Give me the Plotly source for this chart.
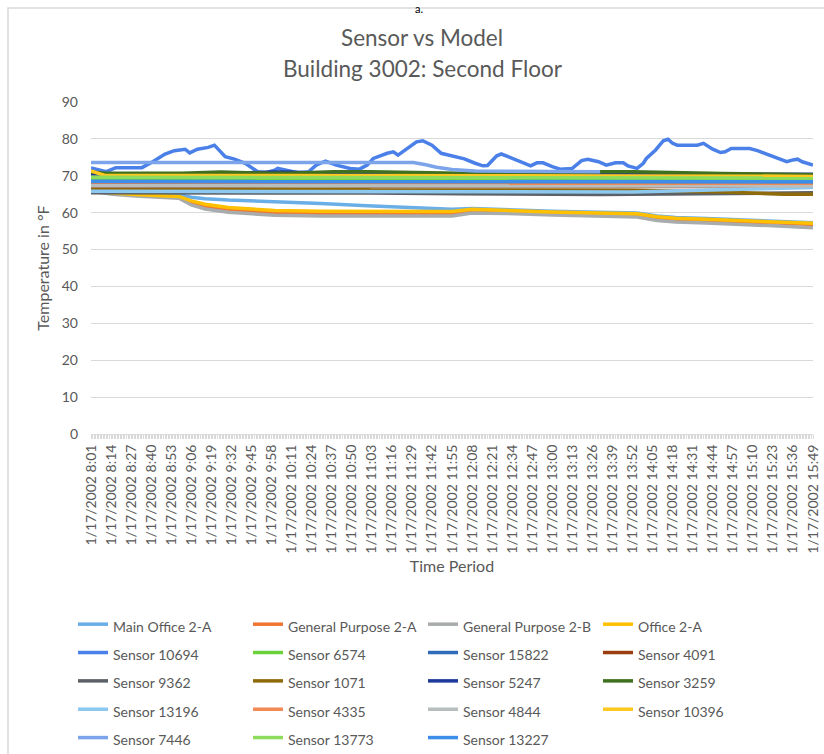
import plotly.graph_objects as go

DATE = "2002-01-17"

# ---- Model series (shared time knots) ----
T_MODEL = ["8:01", "8:15", "8:30", "8:45", "8:58", "9:06", "9:15", "9:30", "9:45", "10:00",
           "10:30", "11:00", "11:30", "11:55", "12:08", "12:30", "13:00", "13:30", "13:55",
           "14:08", "14:20", "14:40", "15:00", "15:20", "15:49"]
MAIN_OFFICE_2A = [66.2, 65.6, 65.2, 65.0, 64.9, 64.2, 63.8, 63.4, 63.2, 63.0,
                  62.5, 61.9, 61.3, 60.9, 61.1, 60.9, 60.4, 60.1, 59.9,
                  59.1, 58.7, 58.4, 58.1, 57.8, 57.3]
GEN_PURPOSE_2A = [66.0, 65.2, 64.8, 64.5, 64.2, 62.8, 61.8, 60.9, 60.4, 60.0,
                  59.8, 59.8, 59.8, 59.8, 60.5, 60.3, 59.9, 59.6, 59.4,
                  58.6, 58.2, 57.9, 57.6, 57.3, 56.8]
GEN_PURPOSE_2B = [65.8, 65.0, 64.5, 64.2, 63.9, 62.1, 61.0, 60.1, 59.6, 59.3,
                  59.1, 59.1, 59.0, 59.1, 59.9, 59.8, 59.4, 59.1, 58.8,
                  57.9, 57.5, 57.2, 56.9, 56.5, 55.9]
OFFICE_2A = [66.1, 65.3, 64.9, 64.6, 64.4, 63.2, 62.3, 61.4, 60.9, 60.6,
             60.4, 60.4, 60.3, 60.3, 60.9, 60.7, 60.2, 59.9, 59.7,
             58.9, 58.5, 58.2, 57.9, 57.6, 57.1]

# ---- Sensor 10694 (fluctuating) ----
T_10694 = ["8:01", "8:11", "8:17", "8:34", "8:41", "8:49", "8:55", "9:02", "9:05", "9:10",
           "9:17", "9:21", "9:28", "9:34", "9:41", "9:49", "9:54", "10:00", "10:02", "10:08",
           "10:15", "10:22", "10:27", "10:33", "10:40", "10:49", "10:55", "11:00", "11:04", "11:13",
           "11:17", "11:20", "11:26", "11:32", "11:36", "11:42", "11:48", "11:55", "12:03", "12:10",
           "12:15", "12:18", "12:24", "12:27", "12:34", "12:40", "12:46", "12:50", "12:54", "13:00",
           "13:05", "13:13", "13:19", "13:23", "13:30", "13:35", "13:41", "13:46", "13:49", "13:55",
           "13:59", "14:01", "14:07", "14:12", "14:15", "14:18", "14:21", "14:29", "14:34", "14:38",
           "14:44", "14:49", "14:52", "14:56", "15:08", "15:13", "15:19", "15:26", "15:32", "15:36",
           "15:39", "15:42", "15:49"]
V_10694 = [72.1, 71.1, 72.2, 72.2, 73.8, 75.9, 76.8, 77.2, 76.2, 77.2,
           77.7, 78.3, 75.2, 74.5, 73.4, 71.1, 70.8, 71.5, 72.0, 71.4,
           70.8, 71.1, 72.9, 74.0, 72.9, 72.0, 71.8, 72.9, 74.7, 76.1,
           76.5, 75.6, 77.4, 79.2, 79.5, 78.3, 76.1, 75.4, 74.6, 73.4,
           72.7, 72.8, 75.4, 75.9, 74.7, 73.8, 72.7, 73.5, 73.5, 72.5,
           71.8, 72.0, 74.1, 74.5, 73.8, 72.9, 73.5, 73.5, 72.7, 72.0,
           73.4, 74.7, 77.0, 79.5, 79.9, 78.8, 78.3, 78.3, 78.3, 78.8,
           77.2, 76.3, 76.5, 77.4, 77.4, 76.8, 75.9, 74.7, 73.8, 74.3,
           74.5, 73.8, 72.9]

# ---- Flat sensors (shared knots) ----
T_FLAT = ["8:01", "8:10", "9:00", "9:14", "9:25", "9:57", "10:10", "10:38", "11:02", "12:00",
          "13:00", "13:31", "13:52", "14:50", "15:30", "15:49"]
S_6574 = [69.3, 69.2, 69.2, 69.2, 69.2, 69.2, 69.2, 69.2, 69.2, 69.2, 69.2, 69.2, 69.2, 69.2, 69.1, 69.1]
S_15822 = [68.1, 68.1, 68.1, 68.1, 68.1, 68.1, 68.1, 68.1, 68.1, 68.1, 68.1, 68.1, 68.1, 68.1, 68.1, 68.1]
S_4091 = [67.1, 67.1, 67.1, 67.1, 67.1, 67.1, 67.1, 67.1, 67.1, 67.1, 67.1, 67.1, 67.1, 67.1, 67.1, 67.1]
S_9362 = [65.4, 65.4, 65.3, 65.3, 65.3, 65.3, 65.3, 65.3, 65.3, 65.1, 64.9, 64.9, 65.0, 65.1, 65.3, 65.4]
S_1071 = [66.2, 66.2, 66.2, 66.2, 66.3, 66.5, 66.5, 66.5, 66.2, 66.2, 66.1, 66.1, 66.1, 65.6, 65.0, 65.0]
S_5247 = [70.5, 70.5, 70.5, 70.5, 70.5, 71.0, 71.0, 70.5, 70.5, 70.5, 70.4, 70.4, 70.4, 70.4, 70.4, 70.4]
S_3259 = [71.0, 70.7, 70.7, 71.0, 71.0, 70.7, 70.7, 71.1, 71.1, 70.7, 70.6, 71.1, 71.1, 70.6, 70.4, 70.3]
S_13196 = [65.8, 65.8, 65.7, 65.7, 65.7, 65.7, 65.7, 65.7, 65.7, 65.7, 65.7, 65.7, 65.6, 66.2, 66.7, 66.8]
S_4335 = [67.5, 67.5, 67.5, 67.5, 67.5, 67.5, 67.5, 67.5, 67.5, 67.5, 67.5, 67.5, 67.5, 67.5, 67.5, 67.5]
S_4844 = [67.3, 67.3, 67.3, 67.3, 67.3, 67.3, 67.3, 67.3, 67.3, 67.3, 67.3, 67.3, 67.3, 67.3, 67.2, 67.2]
S_10396 = [71.3, 70.1, 70.1, 70.1, 70.1, 70.1, 70.1, 70.1, 70.1, 70.1, 70.1, 70.1, 70.1, 70.0, 69.9, 69.8]
S_13773 = [69.6, 69.6, 69.6, 69.6, 69.6, 69.6, 69.6, 69.6, 69.6, 69.6, 69.6, 69.6, 69.6, 69.5, 69.5, 69.4]
S_13227 = [68.5, 68.5, 68.5, 68.5, 68.5, 68.5, 68.5, 68.5, 68.5, 68.5, 68.5, 68.5, 68.5, 68.5, 68.4, 68.4]

# ---- Sensor 7446 ----
T_7446 = ["8:01", "11:30", "11:38", "11:45", "11:55", "12:10", "13:31"]
V_7446 = [73.6, 73.6, 73.0, 72.3, 71.7, 71.3, 71.1]

SERIES = [
    ("Main Office 2-A", T_MODEL, MAIN_OFFICE_2A, "#6AAEE8"),
    ("General Purpose 2-A", T_MODEL, GEN_PURPOSE_2A, "#F07530"),
    ("General Purpose 2-B", T_MODEL, GEN_PURPOSE_2B, "#A8ACAC"),
    ("Office 2-A", T_MODEL, OFFICE_2A, "#FFC000"),
    ("Sensor 10694", T_10694, V_10694, "#4A80E8"),
    ("Sensor 6574", T_FLAT, S_6574, "#6CD23A"),
    ("Sensor 15822", T_FLAT, S_15822, "#2E6BB8"),
    ("Sensor 4091", T_FLAT, S_4091, "#9A3E10"),
    ("Sensor 9362", T_FLAT, S_9362, "#5B6166"),
    ("Sensor 1071", T_FLAT, S_1071, "#8F6A0A"),
    ("Sensor 5247", T_FLAT, S_5247, "#1E3A98"),
    ("Sensor 3259", T_FLAT, S_3259, "#3E7020"),
    ("Sensor 13196", T_FLAT, S_13196, "#8CC8F0"),
    ("Sensor 4335", T_FLAT, S_4335, "#F28A55"),
    ("Sensor 4844", T_FLAT, S_4844, "#B8BEBE"),
    ("Sensor 10396", T_FLAT, S_10396, "#FFC820"),
    ("Sensor 7446", T_7446, V_7446, "#7BA4EA"),
    ("Sensor 13773", T_FLAT, S_13773, "#8EDC5C"),
    ("Sensor 13227", T_FLAT, S_13227, "#3D8EEA"),
]


def to_dt(t):
    h, m = t.split(":")
    return f"{DATE} {int(h):02d}:{m}"


FONT = "Lato"
GREY = "#595959"

fig = go.Figure()
for name, ts, vs, col in SERIES:
    fig.add_trace(go.Scatter(
        x=[to_dt(t) for t in ts], y=vs, mode="lines",
        name=f"<span style='font-size:14px'>{name}</span>",
        line=dict(color=col, width=3.5),
    ))

# plot area geometry (pixels)
L, R, T, B = 91, 11, 102, 320
W, H = 824, 754
PW, PH = W - L - R, H - T - B


def px(x):
    return (x - L) / PW


def py(y):
    return (H - B - y) / PH


fig.update_layout(
    width=W, height=H,
    margin=dict(l=L, r=R, t=T, b=B, autoexpand=False),
    paper_bgcolor="white", plot_bgcolor="white",
    font=dict(family=FONT, color=GREY),
    showlegend=True,
    legend=dict(
        orientation="h", x=px(73), y=py(605), xanchor="left", yanchor="top",
        font=dict(size=19.5, color=GREY, family=FONT),
        entrywidth=130, entrywidthmode="pixels",
        traceorder="normal", bgcolor="rgba(0,0,0,0)",
    ),
    xaxis=dict(
        type="date",
        range=[to_dt("8:01"), to_dt("15:49")],
        tick0=to_dt("8:01"), dtick=13 * 60 * 1000,
        tickformat="%-m/%d/%Y %-H:%M", tickangle=-90,
        tickfont=dict(size=14, color=GREY, family=FONT),
        ticks="outside", ticklen=4, tickcolor="#D9D9D9",
        minor=dict(dtick=60 * 1000, ticks="outside", ticklen=4, tickcolor="#D9D9D9", showgrid=False),
        showgrid=False, showline=True, linecolor="#D9D9D9", linewidth=1,
        title=dict(text="Time Period", font=dict(size=16, color=GREY, family=FONT), standoff=8),
        automargin=False,
    ),
    yaxis=dict(
        range=[0, 90], dtick=10, tick0=0,
        tickfont=dict(size=14, color=GREY, family=FONT),
        showgrid=True, gridcolor="#D9D9D9", gridwidth=1,
        zeroline=False, showline=False, ticks="", ticklabelstandoff=12,
        title=dict(text="Temperature in °F", font=dict(size=16, color=GREY, family=FONT), standoff=8),
        automargin=False,
    ),
    annotations=[
        dict(text="Sensor vs Model", x=px(422), y=py(37), xref="paper", yref="paper",
             showarrow=False, xanchor="center", yanchor="middle",
             font=dict(size=22.5, color=GREY, family=FONT)),
        dict(text="Building 3002: Second Floor", x=px(423), y=py(68), xref="paper", yref="paper",
             showarrow=False, xanchor="center", yanchor="middle",
             font=dict(size=22.5, color=GREY, family=FONT)),
        dict(text="a.", x=px(419), y=py(0), xref="paper", yref="paper",
             showarrow=False, xanchor="center", yanchor="top",
             font=dict(size=11, color="#000000", family=FONT)),
    ],
    shapes=[
        dict(type="rect", xref="paper", yref="paper",
             x0=px(8), x1=px(840), y0=py(770), y1=py(8),
             line=dict(color="#D9D9D9", width=1.5), fillcolor="rgba(0,0,0,0)", layer="below"),
    ],
)

fig.write_html(
    "out.html",
    config={"displayModeBar": False},
    post_script="document.body.style.margin='0';document.body.style.overflow='hidden';",
)
